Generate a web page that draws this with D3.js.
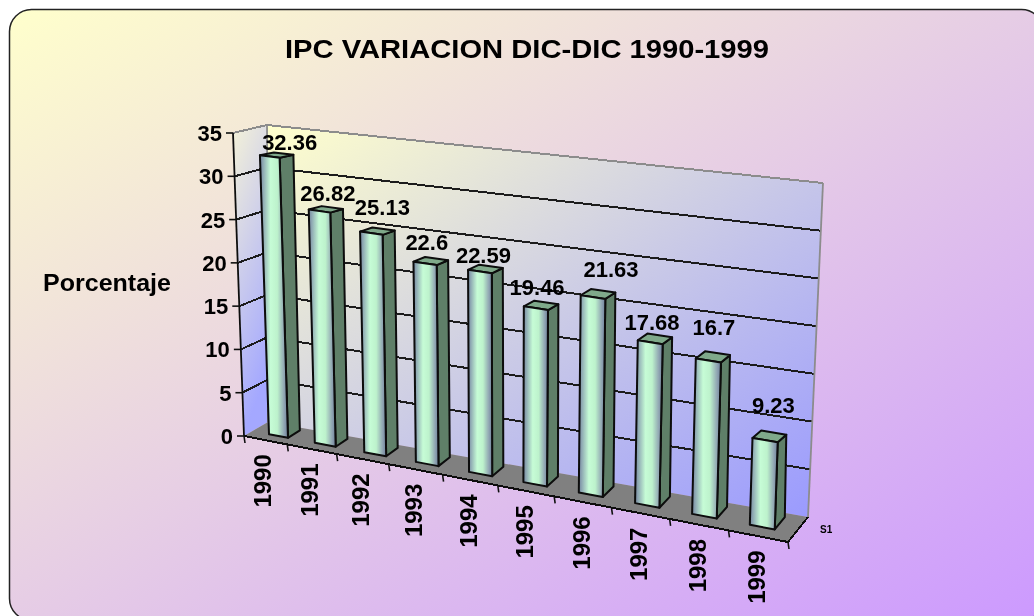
<!DOCTYPE html>
<html lang="es">
<head>
<meta charset="utf-8">
<title>IPC VARIACION DIC-DIC 1990-1999</title>
<script src="https://d3js.org/d3.v7.min.js"></script>
<style>
  html, body { margin: 0; padding: 0; background: #fff; overflow: hidden; }
  svg { display: block; }
  text { font-family: "Liberation Sans", Arial, sans-serif; font-weight: bold; fill: #000; }
</style>
</head>
<body>
<script>
// data
const years = ["1990","1991","1992","1993","1994","1995","1996","1997","1998","1999"];
const ipc = [32.36, 26.82, 25.13, 22.6, 22.59, 19.46, 21.63, 17.68, 16.7, 9.23];
const labels = ["32.36","26.82","25.13","22.6","22.59","19.46","21.63","17.68","16.7","9.23"];
const yTicks = [0, 5, 10, 15, 20, 25, 30, 35];

// hand placed label nudges, excel put them a bit everywhere
const nudgeX = [13, 2, 5, -4, -2, -4, 13, -3, 1, 4];
const nudgeY = [-2, -5, -13, -7, -2, -6, -12, -4, -16, -18];

const w = 1034, h = 616;

// corners of the 3d box: [u][d][v]
const box = {
  "000": [244, 436], "100": [788, 542], "010": [268, 422], "110": [808, 517],
  "001": [233, 133], "101": [803, 212], "011": [267, 125], "111": [823, 183]
};

const uScale = d3.scalePow().exponent(1.1).domain([0, years.length]).range([0, 1]);
const vScale = d3.scaleLinear().domain([0, 35]).range([0, 1]);

// category position (in slots), depth 0-1, value
function project(k, d, val) {
  const u = uScale(k), v = vScale(val);
  const at = i => {
    const bottom = (1 - u) * ((1 - d) * box["000"][i] + d * box["010"][i]) + u * ((1 - d) * box["100"][i] + d * box["110"][i]);
    const top = (1 - u) * ((1 - d) * box["001"][i] + d * box["011"][i]) + u * ((1 - d) * box["101"][i] + d * box["111"][i]);
    return bottom + (top - bottom) * v;
  };
  return [at(0), at(1)];
}

const poly = pts => pts.map(p => p.join(",")).join(" ");

const svg = d3.select("body").append("svg").attr("width", w).attr("height", h);
const defs = svg.append("defs");

function gradient(id, x2, y2, stops) {
  const g = defs.append("linearGradient").attr("id", id)
    .attr("x1", 0).attr("y1", 0).attr("x2", x2).attr("y2", y2);
  stops.forEach(s => g.append("stop").attr("offset", s[0]).attr("stop-color", s[1]));
}
gradient("bg", 1, 1, [[0, "#ffffcc"], [1, "#cc99ff"]]);
gradient("wall", 1, 1, [[0, "#ffffcc"], [1, "#9999ff"]]);
gradient("side", 0.3, 1, [[0, "#f4f2d8"], [1, "#a4a8ff"]]);
gradient("face", 1, 0, [[0, "#74849e"], [0.12, "#90abb4"], [0.38, "#c6fcd6"], [0.62, "#bdf2cc"], [0.85, "#93a9b4"], [1, "#6f7f9c"]]);

defs.append("filter").attr("id", "soft")
  .attr("x", 0).attr("y", 0).attr("width", 1).attr("height", 1)
  .append("feGaussianBlur").attr("stdDeviation", 0.55);

const root = svg.append("g").attr("filter", "url(#soft)");

// chart area, runs off the right and bottom of the window
root.append("rect").attr("x", 0).attr("y", 0).attr("width", w).attr("height", h).attr("fill", "#fff");
root.append("rect")
  .attr("x", 9.5).attr("y", 9.5).attr("width", 1034).attr("height", 611).attr("rx", 22)
  .attr("fill", "url(#bg)").attr("stroke", "#222").attr("stroke-width", 1.5);

// walls and floor
root.append("polygon").attr("fill", "url(#side)")
  .attr("points", poly([project(0, 0, 0), project(0, 1, 0), project(0, 1, 35), project(0, 0, 35)]));
root.append("polygon").attr("fill", "url(#wall)")
  .attr("points", poly([project(0, 1, 0), project(10, 1, 0), project(10, 1, 35), project(0, 1, 35)]));
root.append("polygon").attr("fill", "#808080")
  .attr("points", poly([project(0, 0, 0), project(10, 0, 0), project(10, 1, 0), project(0, 1, 0)]));

// gridlines on both walls
yTicks.filter(t => t > 0).forEach(t => {
  root.append("polyline").attr("fill", "none").attr("shape-rendering", "crispEdges")
    .attr("stroke", t === 35 ? "#8c8c8c" : "#1a1a1a").attr("stroke-width", 2)
    .attr("points", poly([project(0, 0, t), project(0, 1, t), project(10, 1, t)]));
});
root.append("polyline").attr("fill", "none").attr("stroke", "#8c8c8c").attr("stroke-width", 1.8)
  .attr("points", poly([project(0, 1, 0), project(0, 1, 35)]));
root.append("polyline").attr("fill", "none").attr("stroke", "#8c8c8c").attr("stroke-width", 1.8)
  .attr("points", poly([project(10, 1, 0), project(10, 1, 35)]));

// axes
root.append("line").attr("stroke", "#111").attr("stroke-width", 1.8)
  .attr("x1", project(0, 0, 0)[0]).attr("y1", project(0, 0, 0)[1])
  .attr("x2", project(0, 0, 35)[0]).attr("y2", project(0, 0, 35)[1]);
root.append("polyline").attr("fill", "none").attr("stroke", "#111").attr("stroke-width", 2).attr("shape-rendering", "crispEdges")
  .attr("points", poly([project(0, 0, 0), project(10, 0, 0), project(10, 1, 0)]));

yTicks.forEach(t => {
  const p = project(0, 0, t);
  root.append("line").attr("stroke", "#111").attr("stroke-width", 1.6)
    .attr("x1", p[0] - 7).attr("y1", p[1]).attr("x2", p[0]).attr("y2", p[1]);
  root.append("text").attr("x", p[0] - 11).attr("y", p[1] + 8)
    .attr("text-anchor", "end").attr("font-size", 22).text(t);
});

d3.range(0, years.length + 1).forEach(k => {
  const p = project(k, 0, 0);
  root.append("line").attr("stroke", "#111").attr("stroke-width", 1.6)
    .attr("x1", p[0]).attr("y1", p[1]).attr("x2", p[0] + 1).attr("y2", p[1] + 7);
});

// bars, flattened a bit at the top because the box is in perspective
const front = 0.35, back = 0.85, barL = 0.42, barR = 0.84, slot = 0.98, flat = 0.6, lean = 3 / 35;
years.forEach((yr, i) => {
  const val = ipc[i];
  const k = i * slot;
  const a = project(k + barL, front, 0), b = project(k + barR, front, 0);
  const c = project(k + barR, front, val), e = project(k + barL, front, val);
  const f = project(k + barR, back, 0);
  const g = project(k + barR, back, val), q = project(k + barL, back, val);
  g[1] = c[1] + (g[1] - c[1]) * flat;
  q[1] = e[1] + (q[1] - e[1]) * flat;
  g[0] = c[0] + (g[0] - c[0]) * 0.85;
  q[0] = e[0] + (q[0] - e[0]) * 0.85;
  [c, e, g, q].forEach(p => { p[0] -= lean * val; });
  const bar = root.append("g").attr("stroke", "#0c0c0c").attr("stroke-width", 2).attr("stroke-linejoin", "round");
  bar.append("polygon").attr("fill", "#5f7f68").attr("points", poly([b, f, g, c]));
  bar.append("polygon").attr("fill", "#7fa98a").attr("points", poly([e, c, g, q]));
  bar.append("polygon").attr("fill", "url(#face)").attr("points", poly([a, b, c, e]));

  // value label sits above the bar top
  root.append("text")
    .attr("x", (e[0] + g[0]) / 2 + nudgeX[i]).attr("y", q[1] + nudgeY[i])
    .attr("text-anchor", "middle").attr("font-size", 22).text(labels[i]);

  // year label under the front edge
  const t = project(i + 0.5, 0, 0);
  root.append("text")
    .attr("transform", "translate(" + (t[0] + 7) + "," + (t[1] + 41) + ") rotate(-90)")
    .attr("font-size", 24).attr("text-anchor", "middle").text(yr);
});

// titles
root.append("text").attr("x", 285).attr("y", 58).attr("font-size", 26)
  .attr("textLength", 484).attr("lengthAdjust", "spacingAndGlyphs")
  .text("IPC VARIACION DIC-DIC 1990-1999");
root.append("text").attr("x", 43).attr("y", 291).attr("font-size", 24)
  .attr("textLength", 128).attr("lengthAdjust", "spacingAndGlyphs")
  .text("Porcentaje");
root.append("text").attr("x", 820).attr("y", 533).attr("font-size", 10).text("S1");
</script>
</body>
</html>
